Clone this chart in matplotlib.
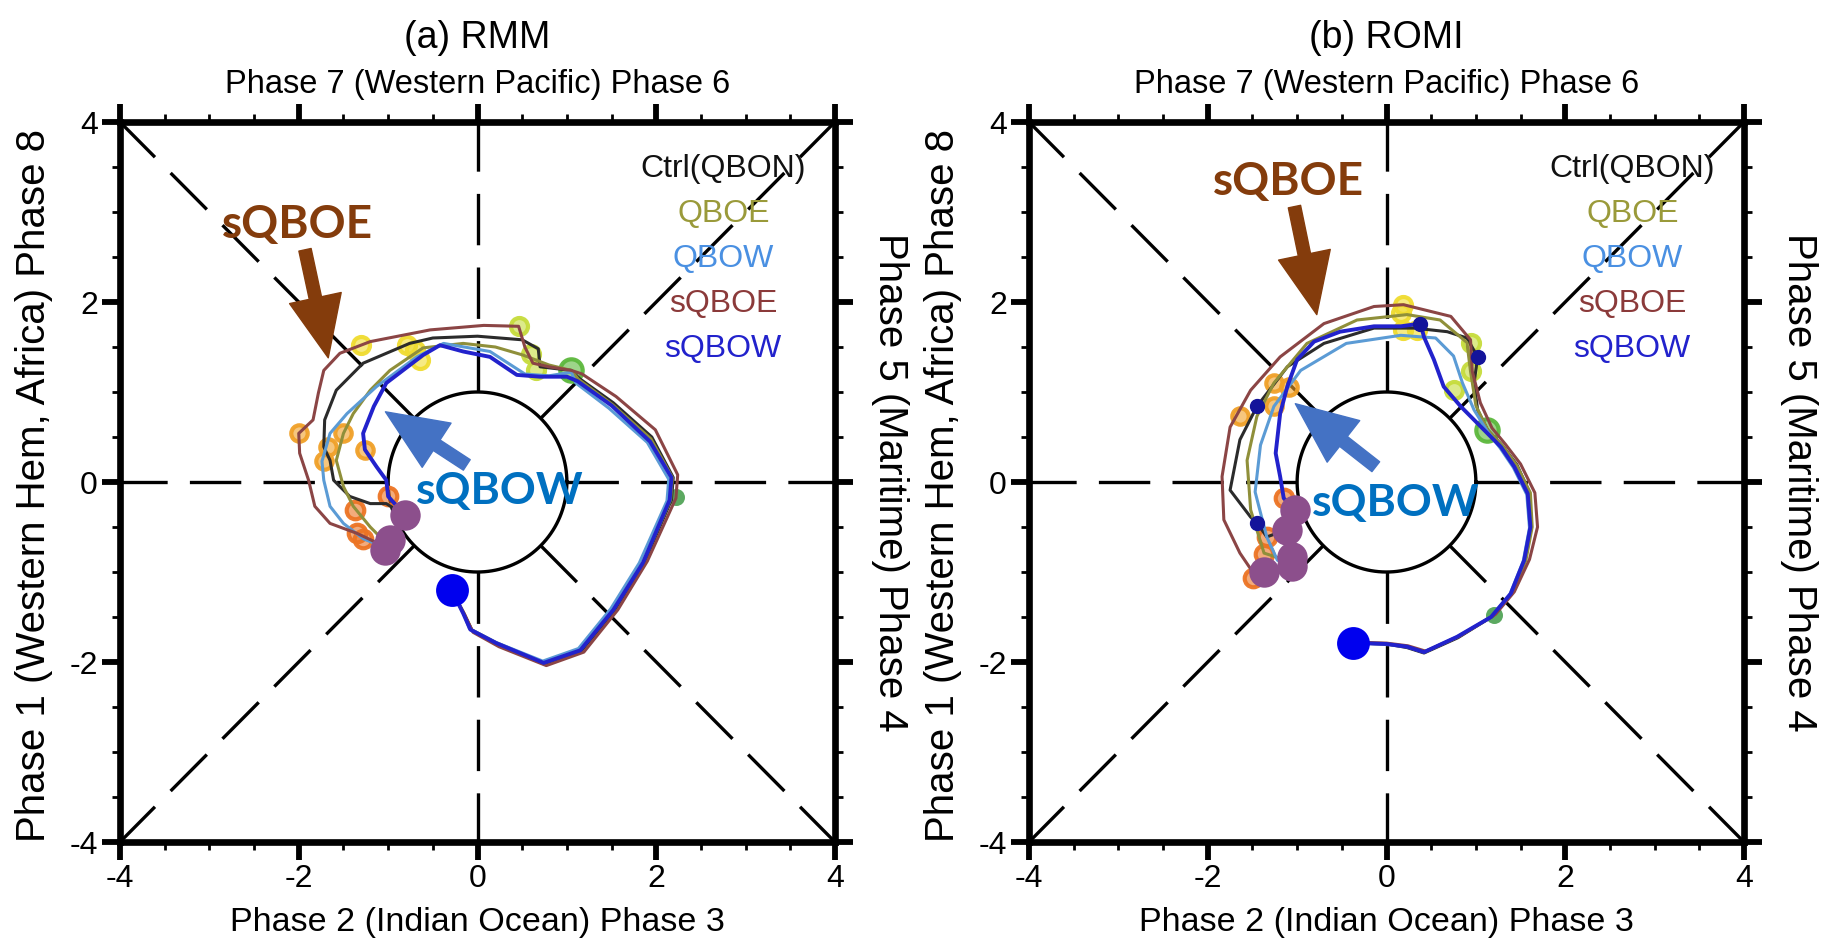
import numpy as np
import matplotlib
matplotlib.use("Agg")
import matplotlib.pyplot as plt

plt.rcParams['font.family'] = ['Liberation Sans', 'DejaVu Sans']
plt.rcParams['lines.scale_dashes'] = False
plt.rcParams['axes.unicode_minus'] = False

# ---------------- DATA ----------------
titles = ["(a) RMM", "(b) ROMI"]
top_label = "Phase 7 (Western Pacific) Phase 6"
bottom_label = "Phase 2 (Indian Ocean) Phase 3"
left_label = "Phase 1 (Western Hem, Africa) Phase 8"
right_label = "Phase 5 (Maritime) Phase 4"
series_names = ["Ctrl(QBON)", "QBOE", "QBOW", "sQBOE", "sQBOW"]
series_colors = ["#2b2b2b", "#8f8f3a", "#5b9bd5", "#8b4545", "#2222cc"]
legend_colors = ["#111111", "#9a9a3a", "#4a90e2", "#8b3a3a", "#2222cc"]
major_ticks = [-4, -2, 0, 2, 4]

# RMM panel
rmm_ctrl_x = [-0.29, -0.15, -0.06, 0.22, 0.74, 1.16, 1.53, 1.86, 2.17, 2.19, 1.95, 1.52, 1.14, 1.05, 0.70, 0.68, 0.50, 0.00, -0.50, -0.76, -1.28, -1.58, -1.71, -1.72, -1.65, -1.61, -1.43, -1.20, -1.02, -0.85]
rmm_ctrl_y = [-1.20, -1.47, -1.65, -1.80, -2.02, -1.88, -1.43, -0.91, -0.20, 0.05, 0.50, 0.88, 1.15, 1.24, 1.28, 1.48, 1.58, 1.62, 1.60, 1.54, 1.32, 1.02, 0.69, 0.39, 0.24, 0.02, -0.16, -0.24, -0.24, -0.35]
rmm_qboe_x = [-0.29, -0.15, -0.07, 0.22, 0.74, 1.15, 1.52, 1.85, 2.16, 2.18, 1.94, 1.51, 1.13, 1.05, 0.80, 0.51, 0.20, -0.16, -0.61, -0.98, -1.20, -1.39, -1.50, -1.58, -1.50, -1.39, -1.20, -1.02]
rmm_qboe_y = [-1.20, -1.46, -1.64, -1.79, -2.01, -1.87, -1.42, -0.90, -0.20, 0.05, 0.48, 0.86, 1.14, 1.24, 1.30, 1.41, 1.50, 1.54, 1.49, 1.24, 1.02, 0.76, 0.54, 0.24, -0.05, -0.27, -0.50, -0.68]
rmm_qbow_x = [-0.29, -0.16, -0.09, 0.20, 0.73, 1.13, 1.49, 1.81, 2.12, 2.14, 1.90, 1.47, 1.10, 1.05, 0.80, 0.53, 0.14, -0.38, -0.68, -1.13, -1.46, -1.65, -1.74, -1.72, -1.65, -1.50, -1.28, -1.03]
rmm_qbow_y = [-1.20, -1.45, -1.63, -1.78, -1.99, -1.85, -1.41, -0.90, -0.21, 0.03, 0.44, 0.82, 1.10, 1.22, 1.18, 1.20, 1.45, 1.54, 1.39, 1.06, 0.76, 0.54, 0.23, 0.02, -0.27, -0.46, -0.63, -0.73]
rmm_sqboe_x = [-0.29, -0.14, -0.05, 0.24, 0.77, 1.19, 1.57, 1.90, 2.22, 2.24, 1.99, 1.55, 1.17, 1.05, 0.80, 0.62, 0.53, 0.46, 0.07, -0.53, -1.20, -1.54, -1.72, -1.78, -1.84, -2.00, -1.99, -1.89, -1.82, -1.65, -1.35, -1.03]
rmm_sqboe_y = [-1.20, -1.48, -1.67, -1.83, -2.04, -1.89, -1.42, -0.88, -0.18, 0.08, 0.58, 0.95, 1.20, 1.24, 1.28, 1.32, 1.50, 1.73, 1.74, 1.69, 1.56, 1.43, 1.24, 0.99, 0.69, 0.54, 0.32, 0.02, -0.27, -0.46, -0.57, -0.72]
rmm_sqbow_x = [-0.29, -0.16, -0.08, 0.21, 0.74, 1.15, 1.52, 1.85, 2.15, 2.17, 1.93, 1.50, 1.12, 1.00, 0.70, 0.44, 0.14, -0.16, -0.42, -0.61, -1.02, -1.16, -1.28, -1.26, -1.13, -1.02, -1.00, -0.81]
rmm_sqbow_y = [-1.20, -1.46, -1.64, -1.79, -2.01, -1.87, -1.42, -0.90, -0.20, 0.05, 0.45, 0.85, 1.12, 1.17, 1.17, 1.19, 1.39, 1.45, 1.52, 1.41, 1.10, 0.84, 0.54, 0.36, 0.17, 0.02, -0.16, -0.37]

rmm_yg_x, rmm_yg_y = [0.46, 0.60, 0.66], [1.73, 1.42, 1.25]
rmm_yel_x, rmm_yel_y = [-1.30, -0.79, -0.70, -0.64], [1.52, 1.52, 1.47, 1.36]
rmm_or_x, rmm_or_y = [-2.00, -1.50, -1.26, -1.67, -1.72], [0.54, 0.54, 0.36, 0.39, 0.23]
rmm_dor_x, rmm_dor_y = [-1.37, -1.00, -1.35, -1.28], [-0.31, -0.16, -0.57, -0.63]
rmm_pur_x, rmm_pur_y = [-0.81, -0.98, -1.03], [-0.37, -0.64, -0.76]
rmm_grn_x, rmm_grn_y = [1.05], [1.24]
rmm_dgrn_x, rmm_dgrn_y = [2.22], [-0.17]
rmm_navy_x, rmm_navy_y = [], []
rmm_start_x, rmm_start_y = [-0.29], [-1.20]

# ROMI panel
romi_ctrl_x = [-0.38, -0.31, 0.00, 0.23, 0.42, 0.80, 1.19, 1.40, 1.55, 1.62, 1.60, 1.46, 1.30, 1.13, 1.02, 0.98, 1.02, 0.90, 0.68, 0.31, -0.14, -0.70, -1.11, -1.45, -1.64, -1.75, -1.52, -1.45, -1.34, -1.11]
romi_ctrl_y = [-1.79, -1.79, -1.80, -1.84, -1.90, -1.73, -1.49, -1.24, -0.87, -0.50, -0.12, 0.19, 0.40, 0.58, 0.80, 1.10, 1.39, 1.60, 1.67, 1.71, 1.71, 1.54, 1.28, 0.84, 0.47, -0.09, -0.39, -0.45, -0.61, -0.53]
romi_qboe_x = [-0.38, -0.31, 0.00, 0.23, 0.42, 0.80, 1.19, 1.40, 1.56, 1.63, 1.61, 1.46, 1.30, 1.13, 1.00, 0.94, 0.90, 0.60, 0.23, -0.33, -0.89, -1.26, -1.45, -1.56, -1.52, -1.37, -1.06]
romi_qboe_y = [-1.79, -1.79, -1.80, -1.83, -1.89, -1.72, -1.49, -1.24, -0.87, -0.50, -0.12, 0.18, 0.40, 0.58, 0.85, 1.23, 1.55, 1.80, 1.86, 1.80, 1.54, 1.10, 0.73, 0.24, -0.31, -0.79, -0.89]
romi_qbow_x = [-0.38, -0.31, 0.00, 0.23, 0.42, 0.79, 1.17, 1.38, 1.53, 1.60, 1.57, 1.42, 1.27, 1.13, 0.98, 0.85, 0.75, 0.55, 0.16, -0.45, -0.96, -1.26, -1.41, -1.47, -1.34, -1.22, -1.06]
romi_qbow_y = [-1.79, -1.79, -1.80, -1.83, -1.89, -1.72, -1.50, -1.25, -0.88, -0.51, -0.14, 0.16, 0.38, 0.56, 0.80, 1.10, 1.40, 1.60, 1.63, 1.54, 1.24, 0.84, 0.41, -0.11, -0.61, -0.87, -0.93]
romi_sqboe_x = [-0.38, -0.30, 0.00, 0.24, 0.44, 0.82, 1.22, 1.43, 1.60, 1.69, 1.66, 1.50, 1.33, 1.18, 1.05, 0.96, 0.94, 0.72, 0.19, -0.14, -0.70, -1.19, -1.52, -1.75, -1.84, -1.82, -1.64, -1.49, -1.37]
romi_sqboe_y = [-1.79, -1.78, -1.79, -1.82, -1.88, -1.71, -1.47, -1.22, -0.86, -0.50, -0.12, 0.20, 0.42, 0.60, 0.88, 1.23, 1.58, 1.84, 1.97, 1.95, 1.76, 1.39, 1.02, 0.61, 0.06, -0.42, -0.79, -1.01, -1.00]
romi_sqbow_x = [-0.38, -0.31, 0.00, 0.23, 0.42, 0.79, 1.17, 1.39, 1.54, 1.61, 1.58, 1.43, 1.28, 1.09, 0.83, 0.64, 0.53, 0.42, 0.38, 0.16, -0.14, -0.52, -0.81, -1.00, -1.11, -1.19, -1.24, -1.19, -1.15, -1.02]
romi_sqbow_y = [-1.79, -1.79, -1.80, -1.83, -1.89, -1.72, -1.50, -1.24, -0.87, -0.50, -0.13, 0.17, 0.39, 0.58, 0.84, 1.06, 1.36, 1.61, 1.76, 1.73, 1.73, 1.67, 1.56, 1.36, 1.06, 0.76, 0.32, 0.06, -0.18, -0.31]

romi_yg_x, romi_yg_y = [0.94, 0.94, 0.75], [1.54, 1.23, 1.02]
romi_yel_x, romi_yel_y = [0.19, 0.16, 0.19, 0.34], [1.97, 1.88, 1.69, 1.69]
romi_or_x, romi_or_y = [-1.64, -1.26, -1.09, -1.26], [0.73, 1.10, 1.06, 0.84]
romi_dor_x, romi_dor_y = [-1.15, -1.34, -1.37, -1.49], [-0.18, -0.61, -0.80, -1.07]
romi_pur_x, romi_pur_y = [-1.02, -1.11, -1.06, -1.06, -1.37], [-0.31, -0.53, -0.83, -0.93, -1.00]
romi_grn_x, romi_grn_y = [1.13], [0.58]
romi_dgrn_x, romi_dgrn_y = [1.20], [-1.48]
romi_navy_x, romi_navy_y = [0.38, 1.02, -1.45, -1.45], [1.76, 1.39, 0.84, -0.45]
romi_start_x, romi_start_y = [-0.38], [-1.79]

# annotation anchors (text centre, arrow tail, arrow tip) in data units
rmm_sqboe_note = [(-2.01, 2.86), (-1.93, 2.58), (-1.67, 1.38)]
rmm_sqbow_note = [(0.25, -0.10), (-0.12, 0.19), (-1.03, 0.78)]
romi_sqboe_note = [(-1.10, 3.33), (-1.03, 3.06), (-0.78, 1.86)]
romi_sqbow_note = [(0.10, -0.23), (-0.12, 0.17), (-1.02, 0.87)]
legend_x = 2.75
legend_y = [3.48, 2.98, 2.48, 1.98, 1.48]

# ---------------- FIGURE ----------------
W, H = 1829, 942
fig = plt.figure(figsize=(W / 100, H / 100), dpi=100)


def fx(px):
    return px / W


def fy(py):
    return 1 - py / H


panels = [
    dict(left=120, title=titles[0],
         series=[(rmm_ctrl_x, rmm_ctrl_y), (rmm_qboe_x, rmm_qboe_y), (rmm_qbow_x, rmm_qbow_y),
                 (rmm_sqboe_x, rmm_sqboe_y), (rmm_sqbow_x, rmm_sqbow_y)],
         yg=(rmm_yg_x, rmm_yg_y), yel=(rmm_yel_x, rmm_yel_y), orn=(rmm_or_x, rmm_or_y),
         dor=(rmm_dor_x, rmm_dor_y), pur=(rmm_pur_x, rmm_pur_y), grn=(rmm_grn_x, rmm_grn_y),
         dgrn=(rmm_dgrn_x, rmm_dgrn_y),
         navy=(rmm_navy_x, rmm_navy_y), start=(rmm_start_x, rmm_start_y),
         n1=rmm_sqboe_note, n2=rmm_sqbow_note),
    dict(left=1029, title=titles[1],
         series=[(romi_ctrl_x, romi_ctrl_y), (romi_qboe_x, romi_qboe_y), (romi_qbow_x, romi_qbow_y),
                 (romi_sqboe_x, romi_sqboe_y), (romi_sqbow_x, romi_sqbow_y)],
         yg=(romi_yg_x, romi_yg_y), yel=(romi_yel_x, romi_yel_y), orn=(romi_or_x, romi_or_y),
         dor=(romi_dor_x, romi_dor_y), pur=(romi_pur_x, romi_pur_y), grn=(romi_grn_x, romi_grn_y),
         dgrn=(romi_dgrn_x, romi_dgrn_y),
         navy=(romi_navy_x, romi_navy_y), start=(romi_start_x, romi_start_y),
         n1=romi_sqboe_note, n2=romi_sqbow_note),
]

ax_w, ax_h = 715, 720
ax_top = 122

for p in panels:
    L = p['left']
    ax = fig.add_axes([fx(L), fy(ax_top + ax_h), ax_w / W, ax_h / H])
    ax.set_xlim(-4, 4)
    ax.set_ylim(-4, 4)
    ax.set_xticks(major_ticks)
    ax.set_yticks(major_ticks)
    ax.set_xticks(np.arange(-4, 4.01, 0.5), minor=True)
    ax.set_yticks(np.arange(-4, 4.01, 0.5), minor=True)
    ax.set_xticklabels([str(t) for t in major_ticks])
    ax.set_yticklabels([str(t) for t in major_ticks])
    ax.tick_params(which='both', direction='out', top=True, right=True,
                   labeltop=False, labelright=False, labelsize=23)
    ax.tick_params(which='major', length=13, width=4.2, pad=3)
    ax.tick_params(which='minor', length=5.5, width=2.0)
    for s in ax.spines.values():
        s.set_linewidth(4.8)
    ax.set_facecolor('white')

    # phase-diagram guide lines, drawn from the unit circle outward
    dash = (0, (37, 16))
    r = 1.0
    c = r / np.sqrt(2)
    guides = [((r, 0), (4, 0)), ((-r, 0), (-4, 0)), ((0, r), (0, 4)), ((0, -r), (0, -4)),
              ((c, c), (4, 4)), ((-c, c), (-4, 4)), ((c, -c), (4, -4)), ((-c, -c), (-4, -4))]
    for (x0, y0), (x1, y1) in guides:
        ax.plot([x0, x1], [y0, y1], color='black', lw=2.4, ls=dash, zorder=1,
                solid_capstyle='butt', dash_capstyle='butt')
    th = np.linspace(0, 2 * np.pi, 300)
    ax.plot(np.cos(th), np.sin(th), color='black', lw=2.4, zorder=2)

    # ring markers under lines
    def ring(xy, col, s, z=3):
        if len(xy[0]) == 0:
            return
        ax.scatter(xy[0], xy[1], s=s, facecolors=matplotlib.colors.to_rgba(col, 0.6),
                   edgecolors=matplotlib.colors.to_rgba(col, 0.95), linewidths=3.0, zorder=z)
    ring(p['yg'], '#c6dc3c', 150)
    ring(p['yel'], '#f0dc30', 150)
    ring(p['orn'], '#f0a028', 140)
    ring(p['dor'], '#ec7424', 160)
    ring(p['grn'], '#5cb83c', 260)
    ax.scatter(p['dgrn'][0], p['dgrn'][1], s=150, color='#3f9a45', alpha=0.85, zorder=3, linewidths=0)

    for (xs, ys), col in zip(p['series'], series_colors):
        lw = 2.8 if col == "#2222cc" else 2.2
        ax.plot(xs, ys, color=col, lw=lw, zorder=4, solid_joinstyle='round')

    if len(p['navy'][0]):
        ax.scatter(p['navy'][0], p['navy'][1], s=100, color='#14149a', zorder=5)
    ax.scatter(p['pur'][0], p['pur'][1], s=480, color='#8c4f8c', zorder=6, linewidths=0)
    ax.scatter(p['start'][0], p['start'][1], s=560, color='#0000ee', zorder=6, linewidths=0)

    # legend text
    for name, col, yy in zip(series_names, legend_colors, legend_y):
        ax.text(legend_x, yy, name, color=col, fontsize=23, ha='center', va='center', zorder=7)

    # annotations
    (tx, ty), tail, tip = p['n1']
    ax.text(tx, ty, "sQBOE", color='#843c0c', fontsize=33, fontweight='bold',
            family=['Lato', 'DejaVu Sans'], ha='center', va='center', zorder=8)
    ax.annotate('', xy=tip, xytext=tail, zorder=8,
                arrowprops=dict(arrowstyle='simple,head_length=4.4,head_width=3.8,tail_width=0.9',
                                color='#843c0c', mutation_scale=10, shrinkA=0, shrinkB=0))
    (tx, ty), tail, tip = p['n2']
    ax.text(tx, ty, "sQBOW", color='#0070c0', fontsize=32, fontweight='bold',
            family=['Lato', 'DejaVu Sans'], ha='center', va='center', zorder=8)
    ax.annotate('', xy=tip, xytext=tail, zorder=8,
                arrowprops=dict(arrowstyle='simple,head_length=4.4,head_width=3.8,tail_width=0.9',
                                color='#4472c4', mutation_scale=10, shrinkA=0, shrinkB=0))

    cx = L + ax_w / 2
    fig.text(fx(cx), fy(38), p['title'], fontsize=27, ha='center', va='center')
    fig.text(fx(cx), fy(85), top_label, fontsize=23.5, ha='center', va='center')
    fig.text(fx(cx), fy(922), bottom_label, fontsize=24.5, ha='center', va='center')
    fig.text(fx(L - 86), fy(485), left_label, fontsize=29, rotation=90, ha='center', va='center')
    fig.text(fx(L + ax_w + 55), fy(482), right_label, fontsize=29, rotation=270, ha='center', va='center')

fig.savefig('out.png', dpi=100, facecolor='white')
